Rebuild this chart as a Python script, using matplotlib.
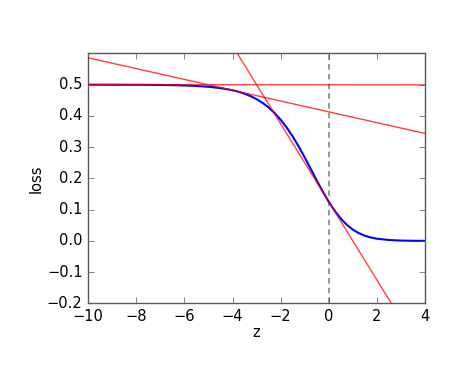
import matplotlib
matplotlib.use("Agg")
import matplotlib.pyplot as plt

plt.style.use("classic")

# blue curve samples
z_vals = [-10, -9.5, -9, -8.5, -8, -7.5, -7, -6.5, -6, -5.5, -5, -4.5, -4, -3.75, -3.5,
          -3.25, -3, -2.75, -2.5, -2.25, -2, -1.75, -1.5, -1.25, -1, -0.75, -0.5, -0.25,
          0, 0.25, 0.5, 0.75, 1, 1.25, 1.5, 1.75, 2, 2.5, 3, 3.5, 4]
loss_vals = [0.5000, 0.4999, 0.4999, 0.4998, 0.4997, 0.4995, 0.4991, 0.4985, 0.4975,
             0.4959, 0.4933, 0.4891, 0.4822, 0.4773, 0.4711, 0.4634, 0.4537, 0.4417,
             0.4270, 0.4092, 0.3879, 0.3629, 0.3342, 0.3021, 0.2672, 0.2306, 0.1937,
             0.1580, 0.1250, 0.0959, 0.0713, 0.0515, 0.0362, 0.0248, 0.0166, 0.0110,
             0.0071, 0.0029, 0.0011, 0.0004, 0.0002]

# red tangent lines: endpoints (z, loss)
line_flat_z = [-10, 4]
line_flat_y = [0.5000, 0.4994]
line_mid_z = [-10, 4]
line_mid_y = [0.586, 0.344]
line_steep_z = [-4, 4]
line_steep_y = [0.625, -0.375]

vline_z = 0

xticks = [-10, -8, -6, -4, -2, 0, 2, 4]
yticks = [-0.2, -0.1, 0.0, 0.1, 0.2, 0.3, 0.4, 0.5]

fig = plt.figure(figsize=(4.64, 3.66), dpi=100, facecolor="white")
ax = fig.add_axes([0.19, 0.171, 0.726, 0.683])

ax.plot(z_vals, loss_vals, color="blue", lw=1.5, zorder=2)
for zz, yy in [(line_flat_z, line_flat_y), (line_mid_z, line_mid_y), (line_steep_z, line_steep_y)]:
    ax.plot(zz, yy, color="red", lw=1.0, alpha=0.75, zorder=3)
ax.axvline(vline_z, color="0.4", ls="--", lw=1.2, alpha=0.8, dashes=(4, 3), zorder=1)

ax.set_xlim(-10, 4)
ax.set_ylim(-0.2, 0.6)
ax.set_xticks(xticks)
ax.set_yticks(yticks)
ax.tick_params(labelsize=10.5, direction="in", colors="0.35", labelcolor="black")
for sp in ax.spines.values():
    sp.set_color("0.35")
ax.set_xlabel("z", fontsize=10.5, labelpad=1)
ax.set_ylabel("loss", fontsize=10.5, labelpad=2)

fig.savefig("out.png", dpi=100, facecolor="white")
